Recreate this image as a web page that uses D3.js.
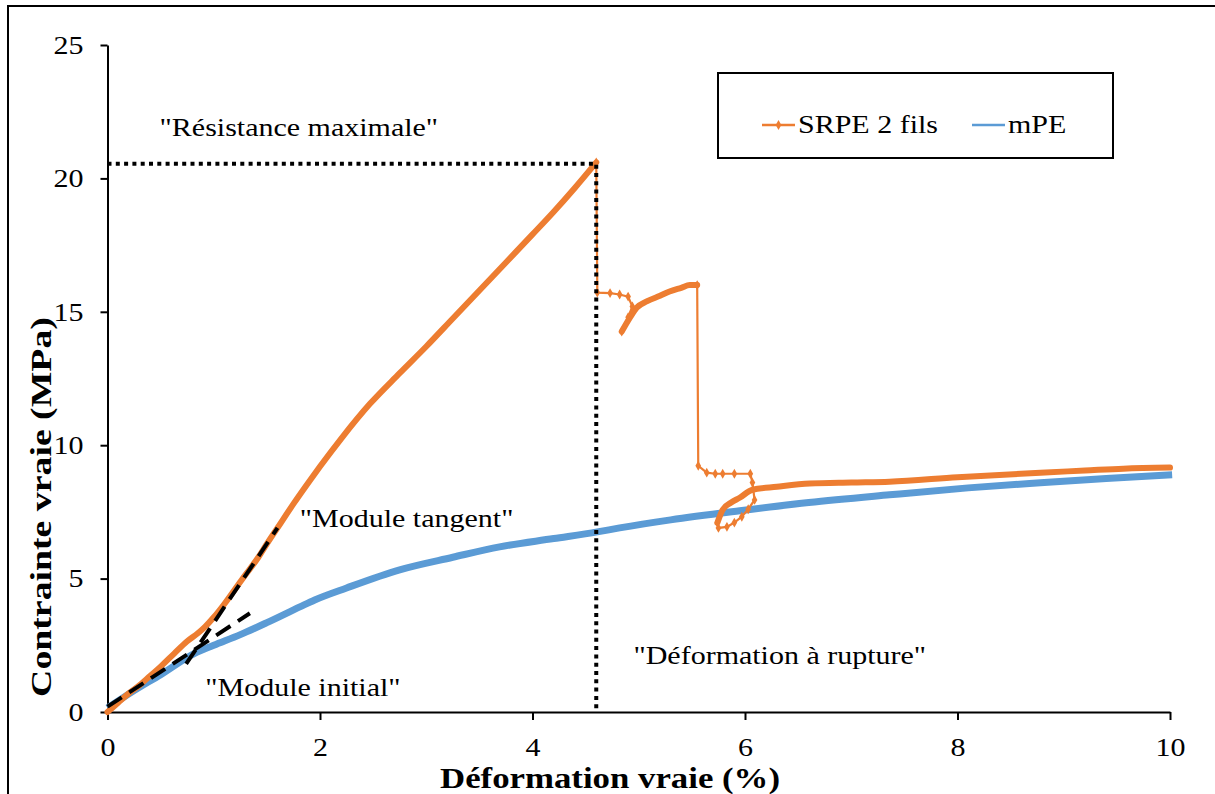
<!DOCTYPE html>
<html lang="fr">
<head>
<meta charset="UTF-8">
<script src="https://d3js.org/d3.v7.min.js"></script>
<style>
    body { margin: 0; background: white; }
    svg text { font-family: "Liberation Serif", "Times New Roman", serif; fill: #000; }
</style>
</head>
<body>
<div id="chart"></div>
<script>
// --- données ---
const xTicks = [0, 2, 4, 6, 8, 10];
const yTicks = [0, 5, 10, 15, 20, 25];

// SRPE 2 fils : parties denses (trait épais) et parties éparses (marqueurs visibles)
const srpeRise = [[0,0],[0.1,0.35],[0.2,0.7],[0.3,1.0],[0.4,1.35],[0.5,1.7],[0.63,2.2],[0.75,2.65],[0.85,2.95],
    [0.92,3.2],[1.0,3.55],[1.1,4.05],[1.2,4.6],[1.3,5.15],[1.42,5.8],[1.5,6.3],[1.6,6.9],[1.75,7.8],[1.9,8.65],
    [2.0,9.2],[2.2,10.25],[2.47,11.55],[2.75,12.7],[3.0,13.7],[3.25,14.75],[3.5,15.8],[3.75,16.85],[4.0,17.9],
    [4.2,18.75],[4.4,19.65],[4.6,20.6]];
const srpePostPeak = [[4.6,20.6],[4.61,15.72],[4.73,15.7],[4.82,15.65],[4.9,15.57],[4.94,15.2],[4.9,14.8],[4.84,14.26]];
const srpeRecover = [[4.84,14.26],[4.92,14.8],[4.98,15.15],[5.08,15.4],[5.2,15.6],[5.29,15.76],[5.4,15.9],[5.48,16.0],[5.55,16.0]];
const srpeDrop = [[5.55,16.0],[5.56,9.23],[5.64,8.97],[5.72,8.93],[5.79,8.93],[5.9,8.93],[6.05,8.93],[6.07,8.6],
    [6.09,7.95],[6.03,7.6],[5.97,7.32],[5.9,7.1],[5.83,6.94],[5.75,6.9],[5.74,7.09]];
const srpeTail = [[5.74,7.09],[5.79,7.58],[5.87,7.85],[5.95,8.03],[6.07,8.33],[6.3,8.44],[6.61,8.56],[7.0,8.6],
    [7.36,8.63],[8.0,8.8],[8.78,8.97],[9.2,9.05],[9.56,9.12],[10.0,9.16]];

// mPE
const mpe = [[0,0.15],[0.25,0.8],[0.5,1.4],[0.82,2.2],[1.0,2.5],[1.25,2.9],[1.5,3.35],[1.81,3.94],[1.95,4.2],
    [2.25,4.65],[2.75,5.33],[3.25,5.8],[3.69,6.19],[4.2,6.5],[4.61,6.75],[4.82,6.9],[5.3,7.2],[5.95,7.54],
    [6.6,7.85],[7.36,8.14],[8.1,8.4],[8.78,8.59],[9.4,8.75],[10.02,8.89]];

// droites de module (tirets)
const moduleInitial = [[0,0.2],[1.34,3.7]];
const moduleTangent = [[0.74,1.8],[1.6,6.9]];

// point de résistance maximale
const peak = [4.6, 20.55];

const annotations = [
    {text: '"Résistance maximale"', x: 0.49, y: 21.6},
    {text: '"Module tangent"', x: 1.81, y: 6.93},
    {text: '"Module initial"', x: 0.92, y: 0.6},
    {text: '"Déformation à rupture"', x: 4.95, y: 1.8}
];
const seriesNames = ["SRPE 2 fils", "mPE"];

// --- dessin ---
const width = 1215, height = 794;
const orange = "#ED7D31", blue = "#5B9BD5";
const sx = 1.2; // police étirée horizontalement comme dans la figure

const svg = d3.select("#chart").append("svg")
    .attr("width", width)
    .attr("height", height);

svg.append("rect")
    .attr("x", 8).attr("y", 6)
    .attr("width", 1220).attr("height", 800)
    .attr("fill", "white")
    .attr("stroke", "#000")
    .attr("stroke-width", 2);

const x = d3.scaleLinear().domain([0, 10]).range([107.5, 1170]);
const y = d3.scaleLinear().domain([0, 25]).range([712, 45]);

const line = d3.line().x(d => x(d[0])).y(d => y(d[1]));
const smooth = d3.line().x(d => x(d[0])).y(d => y(d[1])).curve(d3.curveMonotoneX);

// axes
const xAxis = svg.append("g")
    .attr("transform", `translate(0,${y(0)})`)
    .call(d3.axisBottom(x).tickValues(xTicks).tickSize(8).tickSizeOuter(0).tickFormat(d3.format("d")));
const yAxis = svg.append("g")
    .attr("transform", `translate(${x(0)},0)`)
    .call(d3.axisLeft(y).tickValues(yTicks).tickSize(7).tickSizeOuter(0).tickFormat(d3.format("d")));

[xAxis, yAxis].forEach(g => {
    g.attr("font-family", null);
    g.select(".domain").attr("stroke", "#000").attr("stroke-width", 2);
    g.selectAll(".tick line").attr("stroke", "#000").attr("stroke-width", 2);
    g.selectAll(".tick text")
        .attr("font-size", 25)
        .attr("fill", "#000");
});
xAxis.selectAll(".tick text").attr("y", 0).attr("dy", 0)
    .attr("transform", `translate(0,44) scale(${sx},1)`);
yAxis.selectAll(".tick text").attr("x", 0).attr("dy", "0.33em")
    .attr("transform", `translate(-24,0) scale(${sx},1)`);

// mPE
svg.append("path")
    .datum(mpe)
    .attr("fill", "none")
    .attr("stroke", blue)
    .attr("stroke-width", 7)
    .attr("stroke-linejoin", "round")
    .attr("d", smooth);

// SRPE : ligne fine + marqueurs + parties denses épaisses
const srpeAll = [].concat(srpeRise, srpePostPeak, srpeRecover, srpeDrop, srpeTail);
svg.append("path")
    .datum(srpeAll)
    .attr("fill", "none")
    .attr("stroke", orange)
    .attr("stroke-width", 2.2)
    .attr("d", line);

[srpeRise, srpeRecover, srpeTail].forEach(seg => {
    svg.append("path")
        .datum(seg)
        .attr("fill", "none")
        .attr("stroke", orange)
        .attr("stroke-width", 6)
        .attr("stroke-linejoin", "round")
        .attr("stroke-linecap", "round")
        .attr("d", smooth);
});

const diamond = d3.symbol().type(d3.symbolDiamond).size(28);
svg.selectAll(".marker")
    .data([].concat(srpePostPeak, srpeDrop))
    .enter().append("path")
    .attr("class", "marker")
    .attr("transform", d => `translate(${x(d[0])},${y(d[1])})`)
    .attr("d", diamond)
    .attr("fill", orange);

// lignes de module
[moduleInitial, moduleTangent].forEach(seg => {
    svg.append("path")
        .datum(seg)
        .attr("fill", "none")
        .attr("stroke", "#000")
        .attr("stroke-width", 4)
        .attr("stroke-dasharray", "17,9")
        .attr("d", line);
});

// pointillés de résistance maximale / déformation à rupture
svg.append("path")
    .datum([[0, peak[1]], peak, [peak[0], 0]])
    .attr("fill", "none")
    .attr("stroke", "#000")
    .attr("stroke-width", 4)
    .attr("stroke-dasharray", "4,4.3")
    .attr("d", line);

// annotations
svg.selectAll(".annot")
    .data(annotations)
    .enter().append("text")
    .attr("class", "annot")
    .attr("font-size", 25)
    .attr("transform", d => `translate(${x(d.x)},${y(d.y)}) scale(${sx},1)`)
    .text(d => d.text);

// titres des axes
svg.append("text")
    .attr("font-size", 29)
    .attr("font-weight", "bold")
    .attr("text-anchor", "middle")
    .attr("transform", `translate(610,788) scale(${sx},1)`)
    .text("Déformation vraie (%)");

svg.append("text")
    .attr("font-size", 30)
    .attr("font-weight", "bold")
    .attr("text-anchor", "middle")
    .attr("transform", `translate(51,507) scale(1,1.26) rotate(-90)`)
    .text("Contrainte vraie (MPa)");

// légende
const legend = svg.append("g");
legend.append("rect")
    .attr("x", 718).attr("y", 73)
    .attr("width", 395).attr("height", 85)
    .attr("fill", "white")
    .attr("stroke", "#000")
    .attr("stroke-width", 2);

const legendItems = [
    {name: seriesNames[0], color: orange, x0: 762, marker: true},
    {name: seriesNames[1], color: blue, x0: 972, marker: false}
];
legendItems.forEach(it => {
    legend.append("line")
        .attr("x1", it.x0).attr("x2", it.x0 + 33)
        .attr("y1", 125).attr("y2", 125)
        .attr("stroke", it.color)
        .attr("stroke-width", 2.5);
    if (it.marker) {
        legend.append("path")
            .attr("transform", `translate(${it.x0 + 16.5},125)`)
            .attr("d", diamond)
            .attr("fill", it.color);
    }
    legend.append("text")
        .attr("font-size", 25)
        .attr("transform", `translate(${it.x0 + 36},133) scale(${sx},1)`)
        .text(it.name);
});
</script>
</body>
</html>
